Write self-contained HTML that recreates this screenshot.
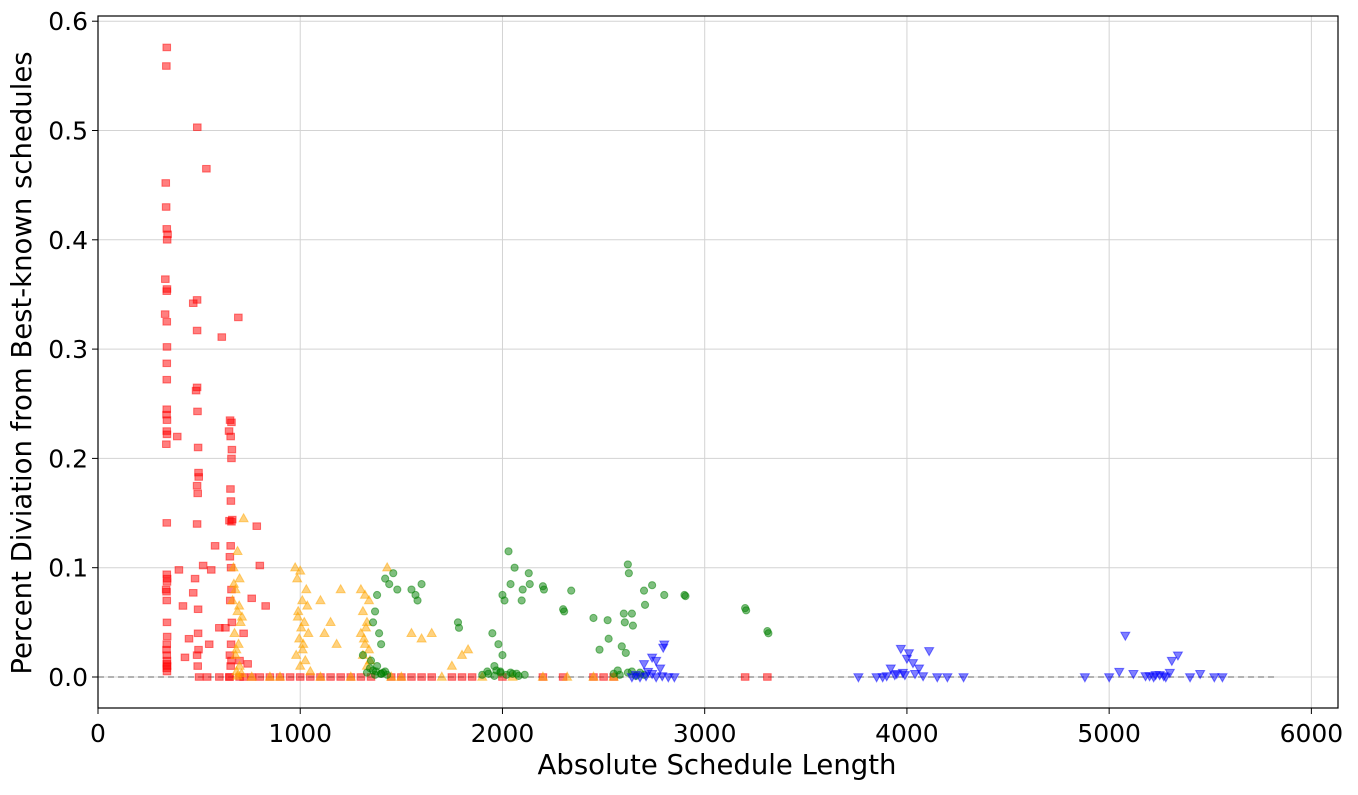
<!DOCTYPE html>
<html><head><meta charset="utf-8">
<style>
body{margin:0;background:#fff;}
svg text{font-family:"DejaVu Sans","Liberation Sans",sans-serif;fill:#000;}
</style></head>
<body>
<svg id="chart" width="1358" height="790" viewBox="0 0 1358 790" xmlns="http://www.w3.org/2000/svg">
<g id="grid"></g>
<g id="marks"></g>
<rect x="98" y="16" width="1240" height="692" fill="none" stroke="#000" stroke-width="1.2"/>
<g id="axes"></g>
<text x="717" y="774" font-size="27.5" text-anchor="middle">Absolute Schedule Length</text>
<text transform="translate(31,363) rotate(-90)" font-size="27.5" text-anchor="middle">Percent Diviation from Best-known schedules</text>
</svg>
<script>
const xTicks=[0,1000,2000,3000,4000,5000,6000];
const xTickLabels=["0","1000","2000","3000","4000","5000","6000"];
const yTicks=[0,0.1,0.2,0.3,0.4,0.5,0.6];
const yTickLabels=["0.0","0.1","0.2","0.3","0.4","0.5","0.6"];

const redX=[340,338,335,337,340,342,344,333,341,340,332,340,341,340,340,340,339,341,340,341,338,340,340,342,341,337,339,340,341,342,340,339,340,341,340,342,340,341,
392,400,420,430,491,536,471,490,471,490,612,694,
490,485,492,495,497,498,490,493,490,495,495,490,493,497,
653,660,648,656,662,660,655,657,650,660,664,656,652,658,660,654,662,658,652,660,656,650,
579,560,520,785,800,829,760,720,600,630,480,450,550,700,740,
500,540,600,650,700,720,760,800,850,900,950,1000,1050,1100,1150,1200,1250,1300,1350,1450,1500,1550,1600,1650,1750,1800,1850,2000,2200,2300,2450,2500,2550,3200,3310];
const redY=[0.576,0.559,0.452,0.43,0.41,0.40,0.405,0.364,0.355,0.353,0.332,0.325,0.302,0.287,0.272,0.245,0.24,0.235,0.225,0.222,0.213,0.141,0.094,0.09,0.087,0.08,0.078,0.07,0.05,0.037,0.03,0.025,0.02,0.015,0.012,0.01,0.008,0.005,
0.22,0.098,0.065,0.018,0.503,0.465,0.342,0.345,0.077,0.317,0.311,0.329,
0.265,0.262,0.243,0.21,0.187,0.183,0.175,0.168,0.14,0.062,0.04,0.02,0.01,0.025,
0.235,0.233,0.225,0.22,0.208,0.2,0.172,0.161,0.143,0.142,0.144,0.12,0.11,0.1,0.08,0.07,0.05,0.03,0.02,0.015,0.01,0,
0.12,0.098,0.102,0.138,0.102,0.065,0.072,0.04,0.045,0.045,0.09,0.035,0.03,0.015,0.012,
0,0,0,0,0,0,0,0,0,0,0,0,0,0,0,0,0,0,0,0,0,0,0,0,0,0,0,0,0,0,0,0,0,0,0];

const orangeX=[720,690,670,700,680,665,690,705,675,695,680,700,685,710,690,672,698,712,684,
975,1000,985,1030,1010,990,1020,1005,1040,995,1015,980,1025,1000,1050,1012,988,1035,
1100,1200,1150,1120,1180,
1430,1300,1320,1340,1310,1330,1300,1320,1340,1310,1330,1315,1325,1345,
1550,1600,1650,1750,1800,1830,
760,850,900,1100,1250,1450,1500,1700,1900,2050,2200,2320,2450,2550];
const orangeY=[0.145,0.115,0.1,0.09,0.08,0.07,0.06,0.05,0.04,0.03,0.02,0.01,0.005,0.003,0.001,0.085,0.065,0.055,0.025,
0.1,0.097,0.09,0.08,0.07,0.06,0.05,0.045,0.04,0.035,0.03,0.02,0.015,0.01,0.005,0.025,0.055,0.065,
0.07,0.08,0.05,0.04,0.03,
0.1,0.08,0.075,0.07,0.06,0.05,0.04,0.03,0.025,0.02,0.01,0.035,0.045,0.015,
0.04,0.035,0.04,0.01,0.02,0.025,
0,0,0,0,0,0,0,0,0,0,0,0,0,0];

const greenX=[1380,1370,1360,1390,1400,1310,1350,1380,1420,1400,1370,1440,1420,1460,1480,1550,1570,1600,1580,1780,1785,
1950,1980,2000,1960,1990,2000,2010,2030,2040,2060,2100,2095,2130,2135,2200,2205,2340,2300,2305,2450,2480,2520,2525,2600,2605,2590,2610,2620,2625,2640,2645,2700,2705,2740,2800,2900,2905,3200,3205,3310,3315,
1900,1930,1960,1990,2020,2050,2080,2110,2550,2580,2620,2660,2700,1330,1360,1400,1430,1345,1375,1410,1925,1970,2040,2070,2570,2640,2680];
const greenY=[0.075,0.06,0.05,0.04,0.03,0.02,0.015,0.01,0.005,0.003,0.002,0.085,0.09,0.095,0.08,0.08,0.075,0.085,0.07,0.05,0.045,
0.04,0.03,0.02,0.01,0.005,0.075,0.07,0.115,0.085,0.1,0.08,0.07,0.095,0.085,0.083,0.08,0.079,0.062,0.06,0.054,0.025,0.052,0.035,0.058,0.05,0.028,0.022,0.103,0.095,0.058,0.047,0.079,0.066,0.084,0.075,0.075,0.074,0.063,0.061,0.042,0.04,
0.002,0.003,0.001,0.004,0.002,0.003,0.001,0.002,0.003,0.002,0.004,0.001,0.002,0.004,0.006,0.003,0.002,0.008,0.005,0.004,0.005,0.006,0.004,0.003,0.006,0.005,0.004];

const blueX=[2800,2795,2740,2760,2700,2780,2720,2640,2680,2760,2820,2850,2790,2660,2710,2740,
3760,3850,3970,4010,4110,4000,4030,3920,4060,3950,3990,4080,4150,4200,4280,3900,3880,3940,3980,4040,
4880,5080,5340,5310,5050,5000,5120,5180,5220,5250,5280,5400,5450,5520,5560,5200,5230,5270,5300];
const blueY=[0.03,0.027,0.018,0.015,0.012,0.008,0.005,0,0,0,0,0,0.001,0.002,0.001,0.003,
0,0,0.026,0.022,0.024,0.017,0.013,0.008,0.008,0.003,0.002,0.001,0,0,0,0.001,0,0.002,0.004,0.003,
0,0.038,0.02,0.015,0.005,0,0.003,0.001,0,0.002,0,0,0.003,0,0,0.001,0.002,0.001,0.004];

const NS="http://www.w3.org/2000/svg";
const X0=98, PXU=0.20223, Y0=677, PYU=1093;
function sx(v){return X0+v*PXU;}
function sy(v){return Y0-v*PYU;}
function mk(tag,attrs,parent){const e=document.createElementNS(NS,tag);for(const k in attrs)e.setAttribute(k,attrs[k]);parent.appendChild(e);return e;}
const grid=document.getElementById('grid'), axes=document.getElementById('axes'), marks=document.getElementById('marks');

xTicks.forEach((t,i)=>{
  const g=mk('line',{x1:sx(t),x2:sx(t),y1:16,y2:708,stroke:'#d3d3d3','stroke-width':1},grid);
  
  
  const tk=mk('line',{x1:sx(t),x2:sx(t),y1:708,y2:714,stroke:'#000'},axes);
  
  
  const tx=mk('text',{x:sx(t),y:742,'font-size':25,'text-anchor':'middle'},axes);
  tx.textContent=xTickLabels[i];
  
  
});
yTicks.forEach((t,i)=>{
  const g=mk('line',{x1:98,x2:1338,y1:sy(t),y2:sy(t),stroke:'#d3d3d3','stroke-width':1},grid);
  
  
  const tk=mk('line',{x1:92,x2:98,y1:sy(t),y2:sy(t),stroke:'#000'},axes);
  
  
  const tx=mk('text',{x:88,y:sy(t)+9,'font-size':25,'text-anchor':'end'},axes);
  tx.textContent=yTickLabels[i];
  
  
});
const ref=mk('line',{x1:sx(0),x2:sx(5830),y1:sy(0),y2:sy(0),stroke:'#999','stroke-width':1.5,'stroke-dasharray':'6,4'},grid);



function draw(xs,ys,shape,color,name){
  xs.forEach((v,i)=>{
    const cx=sx(v), cy=sy(ys[i]);
    let e;
    if(shape==='sq') e=mk('rect',{x:cx-3.8,y:cy-3.3,width:7.6,height:6.6},marks);
    else if(shape==='ci') e=mk('circle',{cx:cx,cy:cy,r:3.6},marks);
    else if(shape==='up') e=mk('polygon',{points:`${cx},${cy-4.8} ${cx-4.5},${cy+3.2} ${cx+4.5},${cy+3.2}`},marks);
    else e=mk('polygon',{points:`${cx},${cy+4.8} ${cx-4.5},${cy-3.2} ${cx+4.5},${cy-3.2}`},marks);
    e.setAttribute('fill',color);
    e.setAttribute('fill-opacity','0.5');
    e.setAttribute('stroke',color);
    e.setAttribute('stroke-opacity','0.5');
    e.setAttribute('stroke-width','1');
    
    
  });
}
draw(redX,redY,'sq','#ff0000','red-point');
draw(orangeX,orangeY,'up','#ffa500','orange-point');
draw(greenX,greenY,'ci','#008000','green-point');
draw(blueX,blueY,'dn','#0000ff','blue-point');
</script>
</body></html>
